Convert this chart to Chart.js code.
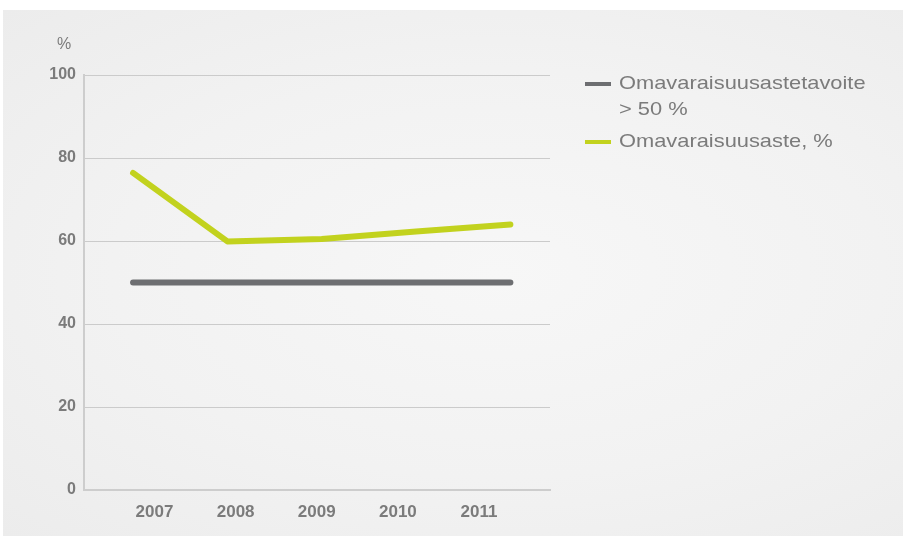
<!DOCTYPE html>
<html>
<head>
<meta charset="utf-8">
<script src="https://cdn.jsdelivr.net/npm/chart.js@4/dist/chart.umd.min.js"></script>
<style>
  html, body { margin:0; padding:0; background:#fff; }
  #wrap { position:relative; width:903px; height:536px; overflow:hidden; }
  #panel { position:absolute; left:3px; top:10px; right:0; bottom:0;
    background: radial-gradient(ellipse at 55% 50%, #f7f7f7 0%, #f2f2f2 55%, #ececec 100%); }
  #chart { position:absolute; left:0; top:0; }
</style>
</head>
<body>
<div id="wrap">
  <div id="panel"></div>
  <canvas id="chart" width="903" height="536"></canvas>
</div>
<script>
// data
const years = ['2007', '2008', '2009', '2010', '2011'];
const target = [50, 50, 50, 50, 50];
const equityRatio = [76.4, 59.9, 60.5, 62.3, 64.0];
const yTicks = [0, 20, 40, 60, 80, 100];

const GRAY = '#6d6e71';
const GREEN = '#c2d21e';
const TEXT = '#7b7b7b';
const FONT = "'Liberation Sans', Arial, sans-serif";

const toPoints = arr => arr.map((v, i) => ({ x: i, y: v }));

// % unit label and legend drawn on canvas
const extras = {
  id: 'extras',
  afterDraw(chart) {
    const ctx = chart.ctx;
    ctx.save();
    ctx.fillStyle = TEXT;
    ctx.font = '16px ' + FONT;
    ctx.textAlign = 'center';
    ctx.textBaseline = 'middle';
    ctx.fillText('%', 64, 45);

    const rows = [
      { lines: ['Omavaraisuusastetavoite', '> 50 %'], color: GRAY, y: 84 },
      { lines: ['Omavaraisuusaste, %'], color: GREEN, y: 142 }
    ];
    ctx.font = '19px ' + FONT;
    ctx.textAlign = 'left';
    rows.forEach(r => {
      ctx.strokeStyle = r.color;
      ctx.lineWidth = 4;
      ctx.beginPath();
      ctx.moveTo(585, r.y);
      ctx.lineTo(611, r.y);
      ctx.stroke();
      // source text is a little wider than Liberation Sans
      r.lines.forEach((t, k) => {
        ctx.save();
        ctx.translate(619, r.y + k * 26);
        ctx.scale(1.15, 1);
        ctx.fillText(t, 0, 0);
        ctx.restore();
      });
    });
    ctx.restore();
  }
};

new Chart(document.getElementById('chart'), {
  type: 'line',
  data: {
    datasets: [
      {
        label: 'Omavaraisuusastetavoite > 50 %',
        data: toPoints(target),
        borderColor: GRAY,
        borderWidth: 6,
        borderCapStyle: 'round',
        pointRadius: 0,
        xAxisID: 'xd',
        yAxisID: 'y'
      },
      {
        label: 'Omavaraisuusaste, %',
        data: toPoints(equityRatio),
        borderColor: GREEN,
        borderWidth: 6,
        borderCapStyle: 'round',
        borderJoinStyle: 'round',
        pointRadius: 0,
        xAxisID: 'xd',
        yAxisID: 'y'
      }
    ]
  },
  options: {
    responsive: false,
    animation: false,
    layout: { padding: { left: 0, right: 353, top: 75, bottom: 0 } },
    plugins: { legend: { display: false }, tooltip: { enabled: false } },
    scales: {
      xd: {
        type: 'linear',
        display: false,
        min: -0.52,
        max: 4.42
      },
      x: {
        type: 'linear',
        position: 'bottom',
        min: -0.869,
        max: 4.875,
        afterBuildTicks: axis => { axis.ticks = years.map((_, i) => ({ value: i })); },
        afterFit: axis => { axis.height = 46; },
        grid: { display: false, drawTicks: false },
        border: { display: true, color: '#cdcdcd', width: 2 },
        ticks: {
          padding: 12,
          color: TEXT,
          font: { family: FONT, size: 17, weight: 'bold' },
          callback: v => years[v]
        }
      },
      y: {
        min: 0,
        max: 100,
        afterBuildTicks: axis => { axis.ticks = yTicks.map(v => ({ value: v })); },
        afterFit: axis => { axis.width = 84; },
        grid: { color: '#cbcbcb', lineWidth: 1, drawTicks: false },
        border: { display: true, color: '#cdcdcd', width: 2 },
        ticks: {
          padding: 8,
          color: TEXT,
          font: { family: FONT, size: 16, weight: 'bold' }
        }
      }
    }
  },
  plugins: [extras]
});
</script>
</body>
</html>
